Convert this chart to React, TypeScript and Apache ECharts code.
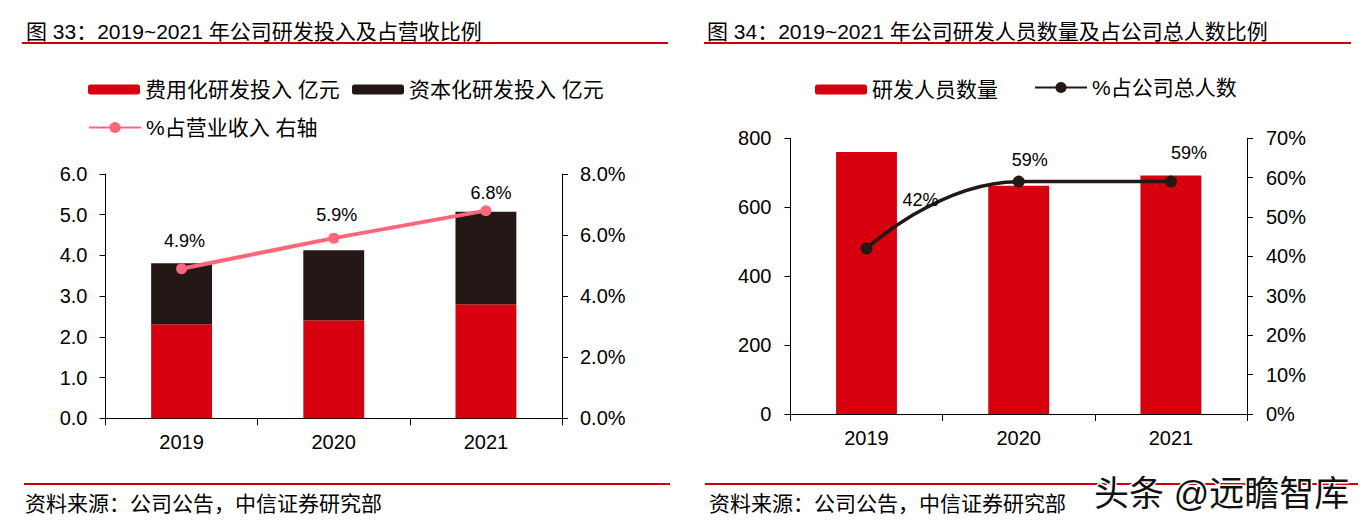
import React, { useEffect, useRef } from "react";
import * as echarts from "echarts";

// ---------- data ----------
const years = ["2019", "2020", "2021"];
const expensedRD = [2.31, 2.41, 2.8]; // 费用化研发投入 亿元
const capitalizedRD = [1.5, 1.72, 2.27]; // 资本化研发投入 亿元
const rdRevenuePct = [4.9, 5.9, 6.8]; // %占营业收入
const rdStaff = [760, 662, 692]; // 研发人员数量
const rdStaffPct = [42, 59, 59]; // %占公司总人数

const leftTitle = "图 33：2019~2021 年公司研发投入及占营收比例";
const rightTitle = "图 34：2019~2021 年公司研发人员数量及占公司总人数比例";
const sourceText = "资料来源：公司公告，中信证券研究部";
const watermark = "头条 @远瞻智库";

// label placement (style only)
const leftLabelOffsets = [
  [3, -28],
  [3, -23],
  [5, -18],
];
const rightLabelOffsets = [
  [54, -49],
  [11, -22],
  [18, -29],
];

const FONT = "'Liberation Sans', Arial, 'Noto Sans CJK SC', sans-serif";
const RED = "#D7000F";
const DARK = "#231815";
const PINK = "#FF6679";
const RULE = "#C8000A";

export default function App() {
  const ref = useRef<HTMLDivElement>(null);

  useEffect(() => {
    if (!ref.current) return;
    const chart = echarts.init(ref.current, null, { renderer: "svg" });

    const axisLine = { show: true, lineStyle: { color: "#000", width: 1 } };
    const axisLabel = { color: "#000", fontSize: 20, fontFamily: FONT };
    const legendText = { color: "#000", fontSize: 21, fontFamily: FONT };

    const mkLegend = (name: string, left: number, top: number, h: number) => ({
      data: [name],
      left,
      top,
      padding: 0,
      itemWidth: 52,
      itemHeight: h,
      itemGap: 0,
      selectedMode: false,
      textStyle: legendText,
    });

    const option: any = {
      animation: false,
      textStyle: { fontFamily: FONT },
      legend: [
        mkLegend("费用化研发投入 亿元", 88, 79, 10),
        mkLegend("资本化研发投入 亿元", 352, 79, 10),
        mkLegend("%占营业收入 右轴", 88, 117, 14),
        mkLegend("研发人员数量", 815, 79, 10),
        mkLegend("%占公司总人数", 1034, 77, 14),
      ],
      grid: [
        { left: 105.5, top: 174, width: 456.5, height: 244.3 },
        { left: 790.4, top: 138.3, width: 456.6, height: 275.7 },
      ],
      xAxis: [
        {
          gridIndex: 0,
          type: "category",
          data: years,
          axisLine,
          axisTick: { show: true, length: 7, lineStyle: { color: "#000" } },
          axisLabel: { ...axisLabel, margin: 14 },
        },
        {
          gridIndex: 1,
          type: "category",
          data: years,
          axisLine,
          axisTick: { show: true, length: 7, lineStyle: { color: "#000" } },
          axisLabel: { ...axisLabel, margin: 14 },
        },
      ],
      yAxis: [
        {
          gridIndex: 0,
          type: "value",
          position: "left",
          min: 0,
          max: 6,
          interval: 1,
          axisLine,
          axisTick: { show: true, length: 6, lineStyle: { color: "#000" } },
          splitLine: { show: false },
          axisLabel: { ...axisLabel, margin: 18, formatter: (v: number) => v.toFixed(1) },
        },
        {
          gridIndex: 0,
          type: "value",
          position: "right",
          min: 0,
          max: 8,
          interval: 2,
          axisLine,
          axisTick: { show: true, length: 6, lineStyle: { color: "#000" } },
          splitLine: { show: false },
          axisLabel: { ...axisLabel, margin: 18, formatter: (v: number) => v.toFixed(1) + "%" },
        },
        {
          gridIndex: 1,
          type: "value",
          position: "left",
          min: 0,
          max: 800,
          interval: 200,
          axisLine,
          axisTick: { show: true, length: 6, lineStyle: { color: "#000" } },
          splitLine: { show: false },
          axisLabel: { ...axisLabel, margin: 19 },
        },
        {
          gridIndex: 1,
          type: "value",
          position: "right",
          min: 0,
          max: 70,
          interval: 10,
          axisLine,
          axisTick: { show: true, length: 6, lineStyle: { color: "#000" } },
          splitLine: { show: false },
          axisLabel: { ...axisLabel, margin: 19, formatter: (v: number) => v + "%" },
        },
      ],
      series: [
        {
          name: "费用化研发投入 亿元",
          type: "bar",
          stack: "rd",
          xAxisIndex: 0,
          yAxisIndex: 0,
          barWidth: "40%",
          itemStyle: { color: RED },
          data: expensedRD,
        },
        {
          name: "资本化研发投入 亿元",
          type: "bar",
          stack: "rd",
          xAxisIndex: 0,
          yAxisIndex: 0,
          barWidth: "40%",
          itemStyle: { color: DARK },
          data: capitalizedRD,
        },
        {
          name: "%占营业收入 右轴",
          type: "line",
          xAxisIndex: 0,
          yAxisIndex: 1,
          symbol: "circle",
          symbolSize: 11,
          itemStyle: { color: PINK },
          lineStyle: { color: PINK, width: 4 },
          z: 5,
          data: rdRevenuePct.map((v, i) => ({
            value: v,
            label: {
              show: true,
              position: "inside",
              offset: leftLabelOffsets[i],
              color: "#000",
              fontSize: 18,
              fontFamily: FONT,
              formatter: (p: any) => p.value.toFixed(1) + "%",
            },
          })),
        },
        {
          name: "研发人员数量",
          type: "bar",
          xAxisIndex: 1,
          yAxisIndex: 2,
          barWidth: "40%",
          itemStyle: { color: RED },
          data: rdStaff,
        },
        {
          name: "%占公司总人数",
          type: "line",
          xAxisIndex: 1,
          yAxisIndex: 3,
          smooth: true,
          symbol: "circle",
          symbolSize: 12,
          itemStyle: { color: DARK },
          lineStyle: { color: DARK, width: 3.5 },
          z: 5,
          data: rdStaffPct.map((v, i) => ({
            value: v,
            label: {
              show: true,
              position: "inside",
              offset: rightLabelOffsets[i],
              color: "#000",
              fontSize: 18,
              fontFamily: FONT,
              formatter: (p: any) => p.value + "%",
            },
          })),
        },
      ],
      graphic: [
        {
          type: "text",
          x: 26,
          y: 31,
          style: { text: leftTitle, fontSize: 21, fontFamily: FONT, fill: "#000", verticalAlign: "middle" },
        },
        {
          type: "text",
          x: 707,
          y: 31,
          style: { text: rightTitle, fontSize: 21, fontFamily: FONT, fill: "#000", verticalAlign: "middle" },
        },
        { type: "line", shape: { x1: 22, y1: 43, x2: 668, y2: 43 }, style: { stroke: RULE, lineWidth: 2 } },
        { type: "line", shape: { x1: 704, y1: 43, x2: 1351, y2: 43 }, style: { stroke: RULE, lineWidth: 2 } },
        { type: "line", shape: { x1: 24, y1: 484, x2: 670, y2: 484 }, style: { stroke: RULE, lineWidth: 2 } },
        { type: "line", shape: { x1: 705, y1: 484, x2: 1358, y2: 484 }, style: { stroke: RULE, lineWidth: 2 } },
        {
          type: "text",
          x: 25,
          y: 503,
          style: { text: sourceText, fontSize: 21, fontFamily: FONT, fill: "#000", verticalAlign: "middle" },
        },
        {
          type: "text",
          x: 709,
          y: 503,
          style: { text: sourceText, fontSize: 21, fontFamily: FONT, fill: "#000", verticalAlign: "middle" },
        },
        {
          type: "text",
          x: 1094,
          y: 493,
          z: 100,
          style: {
            text: watermark,
            fontSize: 35,
            fontFamily: FONT,
            fill: "#111",
            stroke: "#fff",
            lineWidth: 3,
            verticalAlign: "middle",
          },
        },
      ],
    };

    chart.setOption(option);
    return () => chart.dispose();
  }, []);

  return (
    <div
      ref={ref}
      style={{ position: "absolute", left: 0, top: 0, width: 1362, height: 526, background: "#fff" }}
    />
  );
}
